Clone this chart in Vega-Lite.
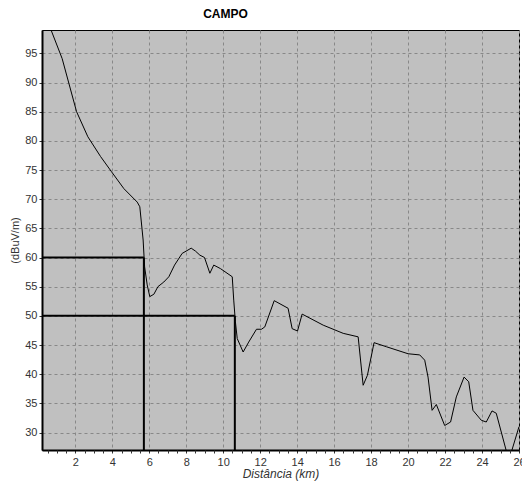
{
  "$schema": "https://vega.github.io/schema/vega-lite/v6.json",
  "width": 477,
  "height": 420,
  "autosize": {"type": "none"},
  "padding": {"left": 42, "top": 30, "right": 3, "bottom": 32},
  "background": "white",
  "config": {
    "view": {"fill": "#c0c0c0", "stroke": "black", "strokeWidth": 1},
    "font": "Liberation Sans",
    "axis": {"labelOverlap": false, "labelFlush": false}
  },
  "title": {
    "text": "CAMPO",
    "fontSize": 12,
    "fontWeight": "bold",
    "font": "Liberation Sans",
    "color": "black",
    "anchor": "middle",
    "dx": -55,
    "offset": 9
  },
  "datasets": {
    "profile": [
      {"d": 0.2, "v": 103}, {"d": 0.69, "v": 99}, {"d": 1.29, "v": 94.1}, {"d": 1.65, "v": 89.9},
      {"d": 2.07, "v": 85.0}, {"d": 2.68, "v": 80.7}, {"d": 3.37, "v": 77.3}, {"d": 3.96, "v": 74.7},
      {"d": 4.63, "v": 71.8}, {"d": 5.35, "v": 69.5}, {"d": 5.49, "v": 68.7}, {"d": 5.67, "v": 63.0},
      {"d": 5.75, "v": 58.4}, {"d": 5.89, "v": 55.3}, {"d": 6.03, "v": 53.3}, {"d": 6.25, "v": 53.7},
      {"d": 6.47, "v": 55.0}, {"d": 6.79, "v": 55.8}, {"d": 7.06, "v": 56.7}, {"d": 7.37, "v": 58.7},
      {"d": 7.78, "v": 60.7}, {"d": 8.27, "v": 61.6}, {"d": 8.5, "v": 61.1}, {"d": 8.74, "v": 60.4},
      {"d": 8.99, "v": 60.0}, {"d": 9.28, "v": 57.3}, {"d": 9.49, "v": 58.7}, {"d": 9.85, "v": 58.1},
      {"d": 10.49, "v": 56.7}, {"d": 10.57, "v": 52.7}, {"d": 10.66, "v": 49.0}, {"d": 10.76, "v": 46.1},
      {"d": 11.08, "v": 43.8}, {"d": 11.38, "v": 45.5}, {"d": 11.8, "v": 47.7}, {"d": 12.07, "v": 47.7},
      {"d": 12.25, "v": 48.1}, {"d": 12.76, "v": 52.6}, {"d": 13.51, "v": 51.3}, {"d": 13.73, "v": 47.8},
      {"d": 14.02, "v": 47.4}, {"d": 14.27, "v": 50.3}, {"d": 15.41, "v": 48.4}, {"d": 16.49, "v": 47.0},
      {"d": 17.3, "v": 46.4}, {"d": 17.57, "v": 38.1}, {"d": 17.8, "v": 39.8}, {"d": 18.16, "v": 45.4},
      {"d": 18.83, "v": 44.7}, {"d": 20.0, "v": 43.5}, {"d": 20.63, "v": 43.3}, {"d": 20.9, "v": 42.4},
      {"d": 21.08, "v": 39.5}, {"d": 21.3, "v": 33.8}, {"d": 21.53, "v": 34.8}, {"d": 21.98, "v": 31.2},
      {"d": 22.3, "v": 31.8}, {"d": 22.61, "v": 36.1}, {"d": 23.03, "v": 39.5}, {"d": 23.28, "v": 38.7},
      {"d": 23.51, "v": 33.8}, {"d": 23.96, "v": 32.1}, {"d": 24.23, "v": 31.8}, {"d": 24.54, "v": 33.7},
      {"d": 24.77, "v": 33.3}, {"d": 25.3, "v": 27.0}, {"d": 25.45, "v": 25.5}, {"d": 25.62, "v": 27.0},
      {"d": 26.0, "v": 31.0}
    ],
    "refs": [
      {"x1": 0.2, "x2": 5.71, "y1": 60, "y2": 60},
      {"x1": 5.71, "x2": 5.71, "y1": 60, "y2": 27},
      {"x1": 0.2, "x2": 10.63, "y1": 50, "y2": 50},
      {"x1": 10.63, "x2": 10.63, "y1": 50, "y2": 27}
    ]
  },
  "layer": [
    {
      "data": {"name": "profile"},
      "mark": {"type": "line", "color": "black", "strokeWidth": 1, "clip": true},
      "encoding": {
        "x": {
          "field": "d", "type": "quantitative",
          "scale": {"domain": [0.2, 26], "nice": false, "zero": false},
          "axis": {
            "orient": "bottom",
            "values": [2, 4, 6, 8, 10, 12, 14, 16, 18, 20, 22, 24, 26],
            "title": "Distância (km)",
            "titleFontStyle": "italic",
            "titleFontWeight": "normal",
            "titleFontSize": 12,
            "titleColor": "#333",
            "titlePadding": 1,
            "labelFontSize": 11,
            "labelColor": "#333",
            "labelPadding": 3,
            "labelFlush": false,
            "labelOverlap": false,
            "tickSize": 3,
            "tickColor": "#333",
            "domainColor": "black",
            "domainWidth": 2,
            "grid": true,
            "gridColor": "#888",
            "gridDash": [3, 3],
            "gridWidth": 1
          }
        },
        "y": {
          "field": "v", "type": "quantitative",
          "scale": {"domain": [27, 99], "nice": false, "zero": false},
          "axis": {
            "values": [30, 35, 40, 45, 50, 55, 60, 65, 70, 75, 80, 85, 90, 95],
            "title": "(dBuV/m)",
            "titleFontWeight": "normal",
            "titleFontSize": 11,
            "titleColor": "#333",
            "titlePadding": 4,
            "labelFontSize": 11,
            "labelColor": "#333",
            "labelPadding": 2,
            "labelOverlap": false,
            "labelFlush": false,
            "tickSize": 3,
            "tickColor": "#333",
            "domainColor": "black",
            "domainWidth": 2,
            "grid": true,
            "gridColor": "#888",
            "gridDash": [3, 3],
            "gridWidth": 1
          }
        }
      }
    },
    {
      "data": {"name": "refs"},
      "mark": {"type": "rule", "color": "black", "strokeWidth": 2},
      "encoding": {
        "x": {
          "field": "x1", "type": "quantitative",
          "axis": {
            "orient": "bottom",
            "values": [0.5, 1, 1.5, 2.5, 3, 3.5, 4.5, 5, 5.5, 6.5, 7, 7.5, 8.5, 9, 9.5, 10.5, 11, 11.5, 12.5, 13, 13.5, 14.5, 15, 15.5, 16.5, 17, 17.5, 18.5, 19, 19.5, 20.5, 21, 21.5, 22.5, 23, 23.5, 24.5, 25, 25.5],
            "labels": false,
            "grid": false,
            "domain": false,
            "ticks": true,
            "tickSize": 3,
            "tickColor": "#333",
            "title": null
          }
        },
        "x2": {"field": "x2"},
        "y": {
          "field": "y1", "type": "quantitative",
          "axis": {
            "values": [30, 35, 40, 45, 50, 55, 60, 65, 70, 75, 80, 85, 90, 95],
            "labelOverlap": false
          }
        },
        "y2": {"field": "y2"}
      }
    }
  ],
  "resolve": {"axis": {"x": "independent"}}
}
